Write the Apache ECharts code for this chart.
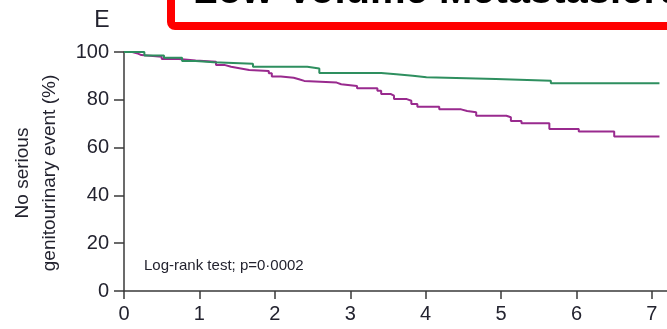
<!DOCTYPE html>
<html>
<head>
<meta charset="utf-8">
<script src="https://cdn.jsdelivr.net/npm/echarts@6/dist/echarts.min.js"></script>
<style>
  html, body { margin: 0; padding: 0; background: #fff; }
  #chart { width: 667px; height: 329px; }
</style>
</head>
<body>
<div id="chart"></div>
<script>
// Kaplan-Meier curves: time in years, percentage without a serious genitourinary event
const greenTimes  = [0, 0.27, 0.53, 0.77, 0.95, 1.19, 1.71, 2.43, 2.59, 3.41, 3.61, 3.83, 4.01, 4.93, 5.66, 7.1];
const greenValues = [100, 98.5, 97.6, 96.2, 95.7, 95.1, 93.8, 93.1, 91.2, 90.7, 90.1, 89.4, 88.7, 88.0, 86.9, 86.9];

const purpleTimes  = [0, 0.11, 0.17, 0.23, 0.50, 0.73, 0.95, 1.22, 1.33, 1.42, 1.53, 1.66, 1.92, 1.96, 2.08, 2.25, 2.32, 2.39, 2.82, 2.88, 3.09, 3.36, 3.41, 3.54, 3.58, 3.75, 3.81, 3.89, 4.18, 4.47, 4.55, 4.67, 5.07, 5.13, 5.27, 5.64, 6.03, 6.50, 7.1];
const purpleValues = [100, 99.5, 98.7, 98.0, 97.1, 96.4, 95.9, 94.6, 93.8, 93.2, 92.5, 92.1, 91.1, 89.7, 89.2, 88.6, 87.9, 87.2, 86.5, 85.8, 84.8, 83.8, 82.4, 81.7, 80.3, 79.6, 78.2, 77.1, 76.0, 75.3, 74.8, 73.3, 72.7, 71.1, 70.2, 67.8, 66.7, 64.6, 64.6];

const xTicks = [0, 1, 2, 3, 4, 5, 6, 7];
const yTicks = [0, 20, 40, 60, 80, 100];

const panelLetter = 'E';
const titleText = 'Low-Volume Metastasierung';
const yAxisTitle = 'No serious\ngenitourinary event (%)';
const testNote = 'Log-rank test; p=0·0002';

const zip = (xs, ys) => xs.map((x, i) => [x, ys[i]]);

const axisColor = '#3a3a3a';
const textColor = '#23232f';

const chart = echarts.init(document.getElementById('chart'), null, { renderer: 'canvas' });

chart.setOption({
  animation: false,
  backgroundColor: '#ffffff',
  grid: { left: 124, right: 0, top: 52, bottom: 38, containLabel: false },
  xAxis: {
    type: 'value',
    min: 0,
    max: 7.2,
    interval: 1,
    axisLine: { show: true, lineStyle: { color: axisColor, width: 1.5 } },
    axisTick: { show: true, length: 8, customValues: xTicks, lineStyle: { color: axisColor, width: 1.5 } },
    axisLabel: {
      customValues: xTicks,
      color: textColor,
      fontSize: 20,
      fontFamily: 'Liberation Sans',
      margin: 13
    },
    splitLine: { show: false }
  },
  yAxis: {
    type: 'value',
    min: 0,
    max: 100,
    interval: 20,
    axisLine: { show: true, lineStyle: { color: axisColor, width: 1.5 } },
    axisTick: { show: true, length: 10, customValues: yTicks, lineStyle: { color: axisColor, width: 1.5 } },
    axisLabel: {
      customValues: yTicks,
      color: textColor,
      fontSize: 20,
      fontFamily: 'Liberation Sans',
      margin: 15
    },
    splitLine: { show: false }
  },
  series: [
    {
      type: 'line',
      step: 'end',
      showSymbol: false,
      data: zip(greenTimes, greenValues),
      lineStyle: { color: '#2e8f5f', width: 2 },
      itemStyle: { color: '#2e8f5f' },
      z: 3
    },
    {
      type: 'line',
      step: 'end',
      showSymbol: false,
      data: zip(purpleTimes, purpleValues),
      lineStyle: { color: '#992a8e', width: 2 },
      itemStyle: { color: '#992a8e' },
      z: 2
    }
  ],
  graphic: [
    {
      type: 'rect',
      shape: { x: 171, y: -30, width: 520, height: 56, r: 4 },
      style: { fill: 'none', stroke: '#ff0000', lineWidth: 8 },
      z: 10
    },
    {
      type: 'text',
      x: 193,
      y: -8,
      style: {
        text: titleText,
        fill: '#000000',
        font: 'bold 40px "Liberation Sans"',
        align: 'left',
        verticalAlign: 'middle'
      },
      z: 10
    },
    {
      type: 'text',
      x: 102,
      y: 21,
      style: {
        text: panelLetter,
        fill: textColor,
        font: '23px "Liberation Sans"',
        align: 'center',
        verticalAlign: 'middle'
      }
    },
    {
      type: 'text',
      x: 36,
      y: 173,
      rotation: Math.PI / 2,
      style: {
        text: yAxisTitle,
        fill: textColor,
        font: '19px "Liberation Sans"',
        lineHeight: 27,
        align: 'center',
        verticalAlign: 'middle'
      }
    },
    {
      type: 'text',
      x: 144,
      y: 266,
      style: {
        text: testNote,
        fill: textColor,
        font: '15px "Liberation Sans"',
        align: 'left',
        verticalAlign: 'middle'
      }
    }
  ]
});
</script>
</body>
</html>
